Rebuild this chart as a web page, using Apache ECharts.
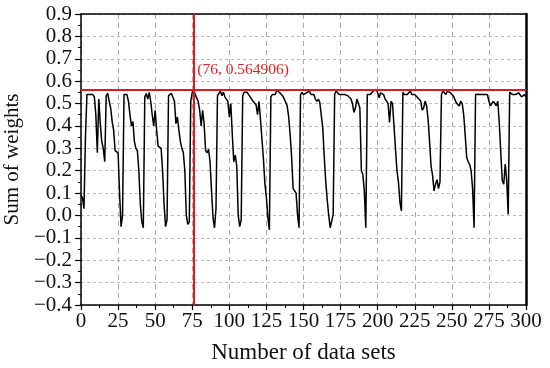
<!DOCTYPE html>
<html>
<head>
<meta charset="utf-8">
<script src="https://cdn.jsdelivr.net/npm/echarts@6/dist/echarts.min.js"></script>
<style>
html,body{margin:0;padding:0;background:#fff;}
#chart{width:550px;height:368px;}
</style>
</head>
<body>
<div id="chart"></div>
<script>
// Sum of weights for data sets 0..300 (x = index)
const weights = [
  0.09, 0.08, 0.03, 0.35, 0.54, 0.545, 0.54, 0.545, 0.54, 0.53,
  0.45, 0.28, 0.52, 0.41, 0.33, 0.30, 0.24, 0.535, 0.545, 0.51,
  0.48, 0.42, 0.38, 0.29, 0.285, 0.28, 0.10, -0.05, 0.00, 0.54,
  0.545, 0.54, 0.51, 0.45, 0.40, 0.42, 0.33, 0.30, 0.29, 0.20,
  0.05, -0.03, -0.055, 0.53, 0.545, 0.52, 0.55, 0.51, 0.45, 0.40,
  0.47, 0.38, 0.31, 0.305, 0.30, 0.20, 0.05, -0.05, -0.02, 0.535,
  0.54, 0.545, 0.54, 0.51, 0.41, 0.44, 0.38, 0.33, 0.30, 0.28,
  0.20, 0.00, -0.04, -0.03, 0.51, 0.55, 0.564906, 0.54, 0.535, 0.51,
  0.47, 0.40, 0.47, 0.41, 0.29, 0.28, 0.295, 0.24, 0.11, -0.01,
  -0.055, 0.03, 0.535, 0.54, 0.555, 0.535, 0.55, 0.53, 0.52, 0.51,
  0.44, 0.50, 0.36, 0.24, 0.27, 0.22, 0.00, -0.05, -0.02, 0.535,
  0.55, 0.555, 0.55, 0.54, 0.53, 0.52, 0.51, 0.505, 0.495, 0.45,
  0.51, 0.43, 0.34, 0.25, 0.14, 0.08, -0.01, -0.065, 0.53, 0.54,
  0.548, 0.54, 0.56, 0.556, 0.548, 0.54, 0.534, 0.52, 0.505, 0.49,
  0.44, 0.36, 0.26, 0.12, 0.11, 0.10, 0.00, -0.055, 0.54, 0.55,
  0.54, 0.545, 0.548, 0.54, 0.556, 0.54, 0.534, 0.54, 0.52, 0.51,
  0.52, 0.504, 0.496, 0.39, 0.26, 0.15, 0.07, 0.00, -0.055, -0.055,
  0.005, 0.54, 0.556, 0.548, 0.54, 0.548, 0.54, 0.548, 0.54, 0.54,
  0.534, 0.526, 0.52, 0.50, 0.46, 0.48, 0.52, 0.526, 0.48, 0.20,
  0.184, 0.11, -0.055, 0.54, 0.548, 0.54, 0.54, 0.556, 0.56, 0.563,
  0.548, 0.526, 0.548, 0.556, 0.54, 0.52, 0.511, 0.50, 0.415, 0.51,
  0.50, 0.40, 0.30, 0.20, 0.15, 0.06, 0.02, 0.55, 0.54, 0.548,
  0.54, 0.548, 0.556, 0.54, 0.548, 0.54, 0.54, 0.526, 0.519, 0.511,
  0.47, 0.48, 0.511, 0.49, 0.43, 0.33, 0.22, 0.18, 0.11, 0.14,
  0.16, 0.12, 0.15, 0.54, 0.556, 0.548, 0.54, 0.556, 0.563, 0.548,
  0.54, 0.534, 0.534, 0.504, 0.496, 0.489, 0.511, 0.50, 0.45, 0.36,
  0.26, 0.24, 0.228, 0.20, 0.12, -0.055, 0.54, 0.54, 0.541, 0.548,
  0.54, 0.548, 0.54, 0.548, 0.54, 0.51, 0.49, 0.50, 0.51, 0.50,
  0.49, 0.51, 0.41, 0.28, 0.155, 0.14, 0.23, 0.155, 0.005, 0.55,
  0.548, 0.54, 0.548, 0.54, 0.534, 0.548, 0.54, 0.53, 0.526, 0.54, 0.53
];
const peakX = 76;
const peakY = 0.564906;
const peakLabel = '(76, 0.564906)';
const xTitle = 'Number of data sets';
const yTitle = 'Sum of weights';

const serif = '"Liberation Serif", "DejaVu Serif", serif';
const red = '#e0191e';
const chart = echarts.init(document.getElementById('chart'), null, {renderer: 'canvas'});
const seriesData = weights.map((v, i) => [i, v]);
const redLine = {color: red, width: 2, type: 'solid'};

chart.setOption({
  animation: false,
  backgroundColor: '#fff',
  grid: {left: 81, right: 24, top: 14, bottom: 63, containLabel: false, outerBoundsMode: 'none'},
  xAxis: [{
    type: 'value', min: 0, max: 300, interval: 25,
    name: xTitle, nameLocation: 'middle', nameGap: 36,
    nameTextStyle: {fontFamily: serif, fontSize: 23, color: '#111'},
    axisLine: {show: true, onZero: false, lineStyle: {color: '#000', width: 1.5}},
    axisTick: {show: true, inside: false, length: 5, lineStyle: {color: '#000', width: 1.2}},
    minorTick: {show: true, splitNumber: 2, length: 3, lineStyle: {color: '#000'}},
    axisLabel: {fontFamily: serif, fontSize: 21, color: '#111', margin: 6, hideOverlap: false},
    splitLine: {show: true, lineStyle: {color: '#aaa', type: [5, 4], width: 1}}
  }, {
    type: 'value', min: 0, max: 300, position: 'top',
    axisLine: {show: true, onZero: false, lineStyle: {color: '#000', width: 1.5}},
    axisTick: {show: false}, axisLabel: {show: false}, splitLine: {show: false}
  }],
  yAxis: [{
    type: 'value', min: -0.4, max: 0.9, interval: 0.1,
    name: yTitle, nameLocation: 'middle', nameGap: 56, nameRotate: 90,
    nameTextStyle: {fontFamily: serif, fontSize: 21, color: '#111'},
    axisLine: {show: true, onZero: false, lineStyle: {color: '#000', width: 1.5}},
    axisTick: {show: true, inside: false, length: 6, lineStyle: {color: '#000', width: 1.2}},
    minorTick: {show: true, splitNumber: 2, length: 3, lineStyle: {color: '#000'}},
    axisLabel: {
      fontFamily: serif, fontSize: 21, color: '#111', margin: 9,
      formatter: v => (Math.round(v * 10) / 10).toFixed(1).replace('-', '\u2212')
    },
    splitLine: {show: true, lineStyle: {color: '#bbb', type: [3, 3], width: 1}}
  }, {
    type: 'value', min: -0.4, max: 0.9, position: 'right',
    axisLine: {show: true, onZero: false, lineStyle: {color: '#000', width: 2.5}},
    axisTick: {show: false}, axisLabel: {show: false}, splitLine: {show: false}
  }],
  series: [{
    type: 'line',
    data: seriesData,
    showSymbol: false,
    symbol: 'none',
    lineStyle: {color: '#000', width: 1.5},
    z: 3,
    markLine: {
      silent: true, symbol: ['none', 'none'], animation: false,
      label: {show: false},
      lineStyle: redLine,
      data: [
        {xAxis: peakX, lineStyle: redLine},
        {yAxis: peakY, lineStyle: redLine}
      ]
    },
    markPoint: {
      silent: true, symbol: 'circle', symbolSize: 1,
      itemStyle: {color: 'rgba(0,0,0,0)'},
      data: [{coord: [peakX, peakY]}],
      label: {
        show: true, formatter: peakLabel, position: [4, -27],
        fontFamily: serif, fontSize: 15.5, color: red
      }
    }
  }]
});
</script>
</body>
</html>
